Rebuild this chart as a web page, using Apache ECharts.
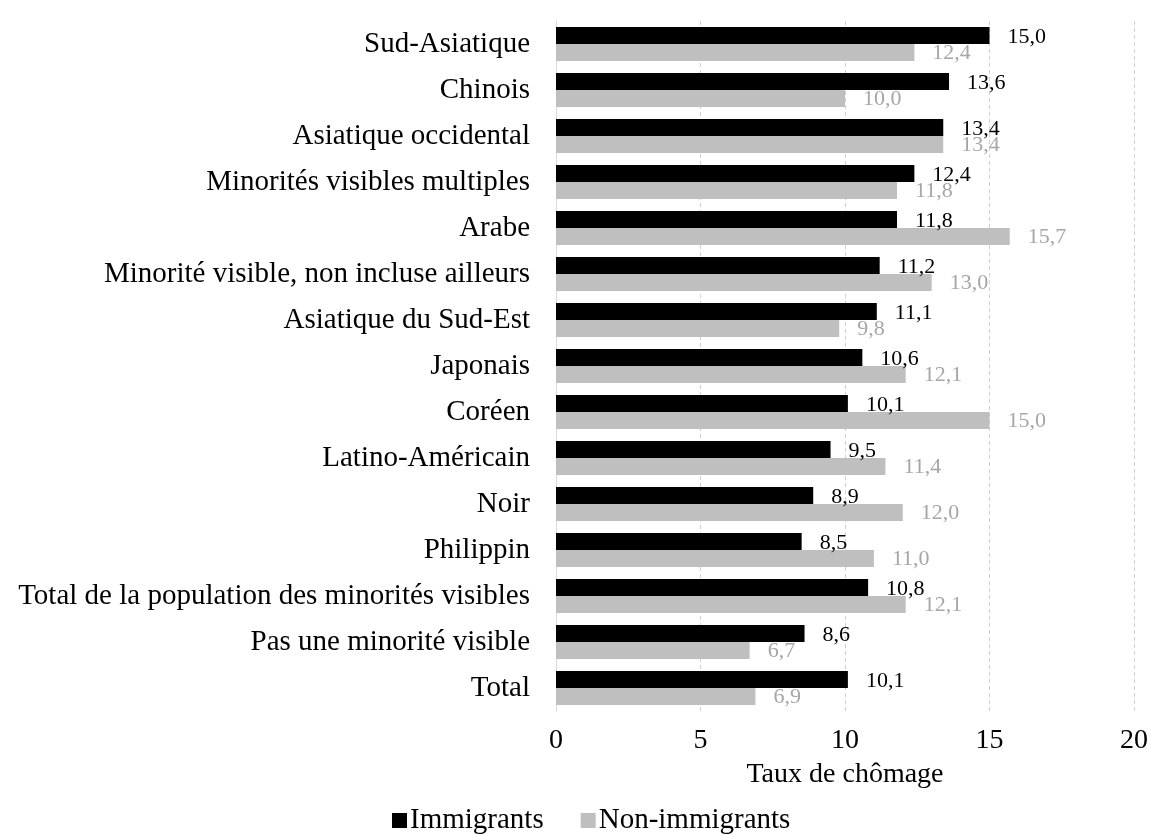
<!DOCTYPE html>
<html>
<head>
<meta charset="utf-8">
<script src="https://cdn.jsdelivr.net/npm/echarts@6/dist/echarts.min.js"></script>
<style>
  html, body { margin: 0; padding: 0; background: #fff; }
  #chart { width: 1151px; height: 835px; }
</style>
</head>
<body>
<div id="chart"></div>
<script>
// catégories (de haut en bas)
const categories = [
  'Sud-Asiatique', 'Chinois', 'Asiatique occidental', 'Minorités visibles multiples',
  'Arabe', 'Minorité visible, non incluse ailleurs', 'Asiatique du Sud-Est', 'Japonais',
  'Coréen', 'Latino-Américain', 'Noir', 'Philippin',
  'Total de la population des minorités visibles', 'Pas une minorité visible', 'Total'
]
const immigrants = [15.0, 13.6, 13.4, 12.4, 11.8, 11.2, 11.1, 10.6, 10.1, 9.5, 8.9, 8.5, 10.8, 8.6, 10.1]
const nonImmigrants = [12.4, 10.0, 13.4, 11.8, 15.7, 13.0, 9.8, 12.1, 15.0, 11.4, 12.0, 11.0, 12.1, 6.7, 6.9]
const xTicks = [0, 5, 10, 15, 20]

const serif = '"Liberation Serif", "DejaVu Serif", serif'
const fmt = (v) => v.toFixed(1).replace('.', ',')

const myChart = echarts.init(document.getElementById('chart'))
const option = {
  animation: false,
  textStyle: { fontFamily: serif },
  grid: { left: 556, right: 16, top: 21, bottom: 124 },
  legend: {
    left: 392,
    top: 806,
    padding: 0,
    itemWidth: 15,
    itemHeight: 15,
    itemGap: 37,
    icon: 'rect',
    textStyle: { fontFamily: serif, fontSize: 29, color: '#000', padding: [0, 0, 0, -2] },
    data: ['Immigrants', 'Non-immigrants']
  },
  xAxis: {
    type: 'value',
    min: xTicks[0],
    max: xTicks[xTicks.length - 1],
    interval: 5,
    name: 'Taux de chômage',
    nameLocation: 'middle',
    nameGap: 50,
    nameTextStyle: { fontFamily: serif, fontSize: 28, color: '#000' },
    axisLine: { show: false },
    axisTick: { show: false },
    axisLabel: { fontFamily: serif, fontSize: 28, color: '#000', margin: 16 },
    splitLine: {
      show: true,
      lineStyle: { type: [4, 3], color: '#d0d0d0', width: 1 }
    }
  },
  yAxis: {
    type: 'category',
    inverse: true,
    data: categories,
    axisLine: { show: true, lineStyle: { color: '#d9d9d9' } },
    axisTick: { show: false },
    axisLabel: { fontFamily: serif, fontSize: 29, color: '#000', margin: 26 }
  },
  series: [
    {
      name: 'Immigrants',
      type: 'bar',
      data: immigrants,
      barGap: '0%',
      barCategoryGap: '26%',
      itemStyle: { color: '#000' },
      label: {
        show: true,
        position: 'right',
        distance: 18,
        offset: [0, 2],
        fontFamily: serif,
        fontSize: 22,
        color: '#000',
        formatter: (p) => fmt(p.value)
      }
    },
    {
      name: 'Non-immigrants',
      type: 'bar',
      data: nonImmigrants,
      barGap: '0%',
      barCategoryGap: '26%',
      itemStyle: { color: '#bfbfbf' },
      label: {
        show: true,
        position: 'right',
        distance: 18,
        offset: [0, 1],
        fontFamily: serif,
        fontSize: 22,
        color: '#a6a6a6',
        formatter: (p) => fmt(p.value)
      }
    }
  ]
}
option && myChart.setOption(option)
</script>
</body>
</html>
